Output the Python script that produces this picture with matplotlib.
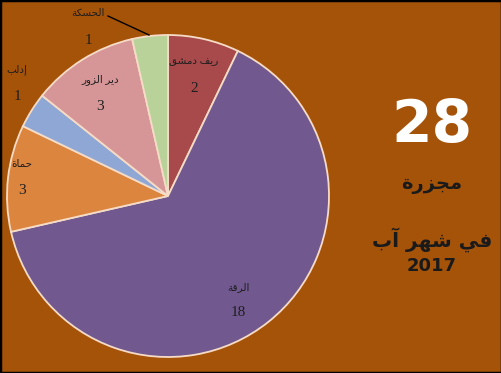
import matplotlib
matplotlib.use('Agg')
import matplotlib.pyplot as plt
from matplotlib.patches import Rectangle

# data
regions = ['ريف دمشق', 'الرقة', 'حماة', 'إدلب', 'دير الزور', 'الحسكة']
counts = [2, 18, 3, 1, 3, 1]
colors = ['#A84A4B', '#71598F', '#DC853F', '#8FA7D4', '#D69596', '#B8D29A']
total_txt = '28'
unit_txt = 'مجزرة'
month_txt = 'في شهر آب'
year_txt = '2017'

# arabic shaping (matplotlib has no shaper): presentation forms iso, fin, ini, med
FORMS = {
    'ا': ('\uFE8D', '\uFE8E'), 'آ': ('\uFE81', '\uFE82'), 'إ': ('\uFE87', '\uFE88'),
    'د': ('\uFEA9', '\uFEAA'), 'ر': ('\uFEAD', '\uFEAE'), 'ز': ('\uFEAF', '\uFEB0'),
    'و': ('\uFEED', '\uFEEE'), 'ة': ('\uFE93', '\uFE94'),
    'ب': ('\uFE8F', '\uFE90', '\uFE91', '\uFE92'), 'ج': ('\uFE9D', '\uFE9E', '\uFE9F', '\uFEA0'),
    'ح': ('\uFEA1', '\uFEA2', '\uFEA3', '\uFEA4'), 'س': ('\uFEB1', '\uFEB2', '\uFEB3', '\uFEB4'),
    'ش': ('\uFEB5', '\uFEB6', '\uFEB7', '\uFEB8'), 'ف': ('\uFED1', '\uFED2', '\uFED3', '\uFED4'),
    'ق': ('\uFED5', '\uFED6', '\uFED7', '\uFED8'), 'ك': ('\uFED9', '\uFEDA', '\uFEDB', '\uFEDC'),
    'ل': ('\uFEDD', '\uFEDE', '\uFEDF', '\uFEE0'), 'م': ('\uFEE1', '\uFEE2', '\uFEE3', '\uFEE4'),
    'ه': ('\uFEE9', '\uFEEA', '\uFEEB', '\uFEEC'), 'ي': ('\uFEF1', '\uFEF2', '\uFEF3', '\uFEF4'),
}

def shape(s):
    out = []
    for i, c in enumerate(s):
        if c not in FORMS:
            out.append(c)
            continue
        prev = s[i - 1] if i > 0 else ''
        nxt = s[i + 1] if i < len(s) - 1 else ''
        jp = prev in FORMS and len(FORMS[prev]) == 4
        jn = len(FORMS[c]) == 4 and nxt in FORMS
        f = FORMS[c]
        if jp and jn:
            out.append(f[3])
        elif jp:
            out.append(f[1])
        elif jn:
            out.append(f[2])
        else:
            out.append(f[0])
    return ''.join(out)[::-1]

bg = '#A6530A'
fig = plt.figure(figsize=(5.02, 3.73), dpi=100, facecolor=bg)
ax = fig.add_axes([0, 0, 1, 1])
ax.set_facecolor(bg)

ax.pie(counts, colors=colors, startangle=90, counterclock=False,
       center=(168, 177), radius=161,
       wedgeprops=dict(edgecolor='#F6DCC6', linewidth=1.3))
ax.set_xlim(0, 502)
ax.set_ylim(0, 373)
ax.set_aspect('equal')
ax.axis('off')

# label positions (pixel coords, y from bottom)
label_pos = [(194, 311), (238, 86), (22, 208), (17, 303), (100, 293), (88, 359)]
fam = ['Liberation Serif', 'DejaVu Sans']
for name, n, (x, y) in zip(regions, counts, label_pos):
    ax.text(x, y, shape(name), ha='center', va='center', fontsize=7.5, family=fam, color='#1e1e1e')
    ax.text(x, y - 26, str(n), ha='center', va='center', fontsize=11, family=fam, color='#1e1e1e')

# leader line for الحسكة
ax.plot([108, 149], [357, 338], color='black', lw=1)

ax.text(432, 247, total_txt, ha='center', va='center', fontsize=42,
        fontweight='bold', color='white', family='DejaVu Sans')
ax.text(432, 188, shape(unit_txt), ha='center', va='center', fontsize=14,
        fontweight='bold', color='#1a1a1a', family='DejaVu Sans')
ax.text(432, 133, ' '.join(shape(w) for w in month_txt.split()[::-1]), ha='center', va='center',
        fontsize=14.5, fontweight='bold', color='#1a1a1a', family='DejaVu Sans')
ax.text(432, 107, year_txt, ha='center', va='center', fontsize=13,
        fontweight='bold', color='#1a1a1a', family='DejaVu Sans')

fig.add_artist(Rectangle((0, 0), 1, 1, transform=fig.transFigure, fill=False,
                         edgecolor='black', linewidth=2.5))

fig.savefig('out.png', dpi=100, facecolor=bg)
